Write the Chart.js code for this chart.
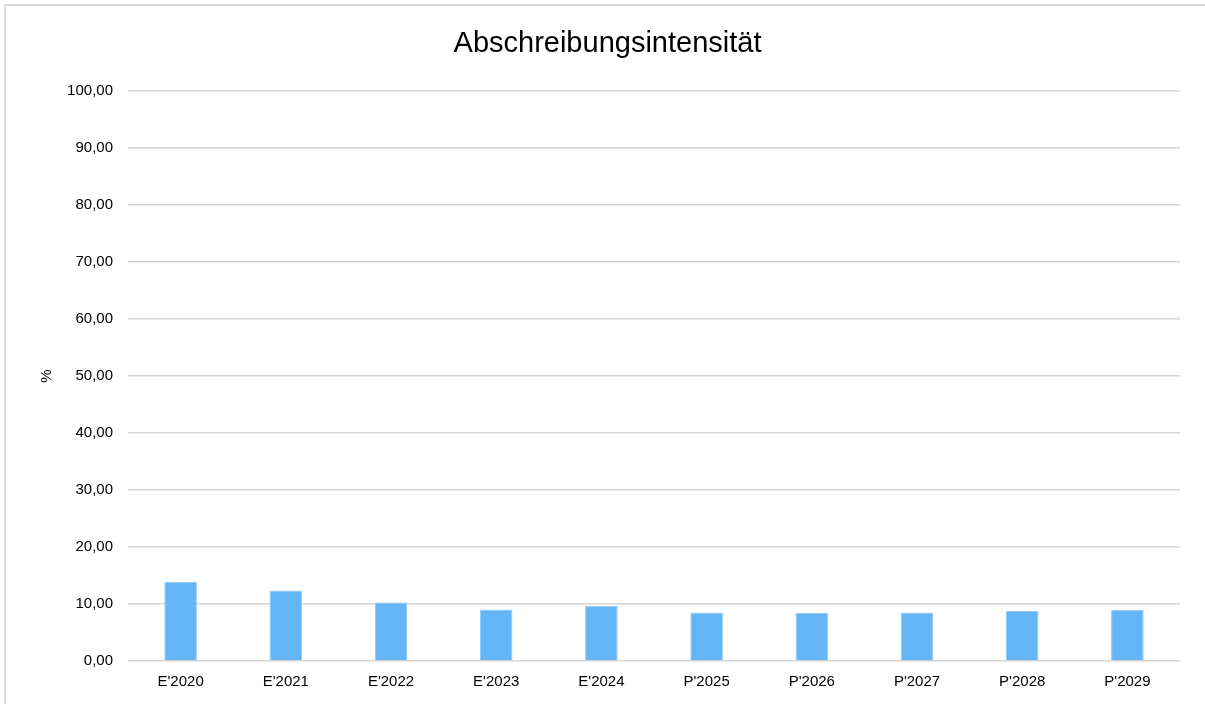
<!DOCTYPE html>
<html>
<head>
<meta charset="utf-8">
<script src="https://cdn.jsdelivr.net/npm/chart.js@4/dist/chart.umd.min.js"></script>
<style>
  body { margin: 0; background: #fff; }
  #frame { position: absolute; left: 4px; top: 4px; width: 1210px; height: 720px; border: 2px solid #d9d9d9; box-sizing: border-box; }
  #chart { position: absolute; left: 0; top: 0; }
</style>
</head>
<body>
<div id="frame"></div>
<canvas id="chart" width="1205" height="704"></canvas>
<script>
// ===== data =====
const categories = ["E'2020", "E'2021", "E'2022", "E'2023", "E'2024", "P'2025", "P'2026", "P'2027", "P'2028", "P'2029"];
const values = [13.9, 12.35, 10.25, 9.05, 9.7, 8.5, 8.45, 8.5, 8.8, 9.0];
const yMin = 0;
const yMax = 100;
const yStep = 10;

Chart.defaults.font.family = "'Liberation Sans', Arial, sans-serif";
Chart.defaults.color = "#000";

new Chart(document.getElementById("chart"), {
  type: "bar",
  data: {
    labels: categories,
    datasets: [{
      label: "Abschreibungsintensität",
      data: values,
      backgroundColor: "#64b5f6",
      borderColor: "#90caf9",
      borderWidth: 1,
      barPercentage: 0.31,
      categoryPercentage: 1
    }]
  },
  options: {
    responsive: false,
    animation: false,
    layout: { padding: { left: 35, right: 25, top: 0, bottom: 0 } },
    plugins: {
      legend: { display: false },
      tooltip: { enabled: false },
      title: {
        display: true,
        text: "Abschreibungsintensität",
        font: { size: 29, weight: "normal", lineHeight: 1.2 },
        color: "#000",
        padding: { top: 26.6, bottom: 29.6 }
      }
    },
    scales: {
      x: {
        grid: { display: false, drawTicks: false },
        border: { display: false },
        ticks: { font: { size: 15 }, padding: 12, maxRotation: 0 },
        afterFit: s => { s.height = 43; }
      },
      y: {
        min: yMin,
        max: yMax,
        grid: { color: "#d6d6d6", lineWidth: 1.5, drawTicks: false },
        border: { display: false },
        ticks: {
          stepSize: yStep,
          font: { size: 15 },
          padding: 15,
          callback: v => v.toFixed(2).replace(".", ",")
        },
        title: {
          display: true,
          text: "%",
          font: { size: 15 },
          padding: { top: 3, bottom: 0 }
        },
        afterFit: s => { s.width = 93; }
      }
    }
  }
});
</script>
</body>
</html>
